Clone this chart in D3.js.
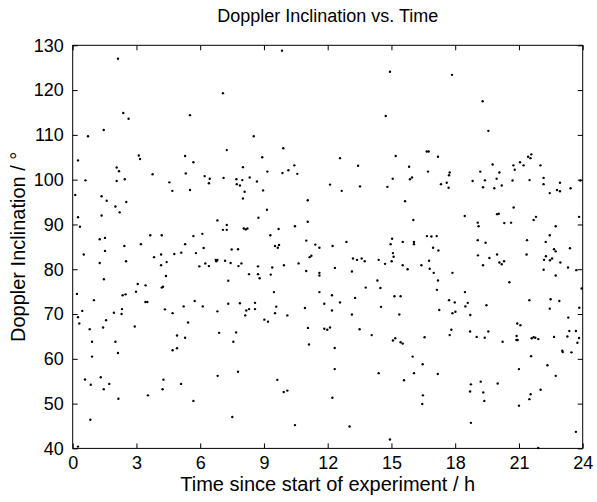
<!DOCTYPE html>
<html>
<head>
<meta charset="utf-8">
<script src="https://cdn.jsdelivr.net/npm/d3@7"></script>
<style>
  body { margin: 0; background: #fff; }
  svg text { font-family: "Liberation Sans", Arial, Helvetica, sans-serif; fill: #000; }
</style>
</head>
<body>
<svg id="chart" width="597" height="502"></svg>
<script>
// tick values
const xTicks = [0, 3, 6, 9, 12, 15, 18, 21, 24];
const yTicks = [40, 50, 60, 70, 80, 90, 100, 110, 120, 130];

const titleText = "Doppler Inclination vs. Time";
const xLabel = "Time since start of experiment / h";
const yLabel = "Doppler Inclination / °";

// [time in h, inclination in deg]
const obs = [
  [2.13,127.0],[2.38,114.9],[2.63,113.6],[1.46,111.1],[0.72,109.7],[3.11,105.4],[3.17,104.6],[0.25,104.3],
  [2.07,102.7],[2.18,101.9],[3.76,101.2],[0.60,99.85],[2.07,99.7],[2.45,100.1],[0.12,96.6],[1.36,96.3],
  [1.60,95.3],[2.52,95.0],[2.01,94.0],[2.21,92.7],[0.25,91.6],[1.36,92.0],[0.34,89.5],[3.65,87.6],
  [1.27,86.7],[1.52,87.0],[3.21,85.6],[2.43,85.2],
  [7.07,119.3],[5.52,114.4],[7.25,106.6],[5.29,105.3],[5.68,103.9],[5.32,101.4],[6.21,100.8],[6.45,100.2],
  [7.10,100.4],[4.55,99.4],[6.41,99.2],[7.70,100.1],[7.72,99.0],[7.87,98.7],[4.69,97.5],[5.52,97.7],
  [6.81,90.9],[7.25,89.9],[7.07,88.8],[7.25,88.8],[4.19,87.6],[6.10,87.9],[5.68,87.4],[5.29,85.6],
  [9.85,128.8],[8.52,109.7],[9.91,107.0],[8.92,105.0],[8.01,102.8],[10.43,103.2],[9.16,101.8],[9.87,101.5],
  [10.15,102.1],[10.57,101.3],[7.98,99.9],[8.33,100.5],[8.67,99.6],[8.09,97.3],[8.96,97.6],[8.01,95.8],
  [11.06,95.4],[9.14,93.3],[8.74,91.5],[11.06,90.6],[10.46,89.6],[8.05,89.1],[8.14,88.9],[8.22,89.1],
  [9.69,89.0],[9.30,87.6],[10.99,86.4],[11.42,85.5],[9.52,85.2],[9.71,85.4],
  [14.93,124.1],[14.73,114.2],[12.58,104.8],[15.20,105.3],[13.43,103.1],[15.83,102.9],[12.11,98.9],[12.66,97.5],
  [13.52,98.5],[14.81,98.4],[15.06,100.2],[15.87,100.1],[15.97,100.5],[15.64,95.2],[16.03,91.0],[15.03,86.8],
  [12.88,86.1],[12.23,85.2],[14.96,85.6],[15.53,86.1],[16.06,86.1],[16.06,85.6],
  [17.85,123.4],[19.29,117.5],[19.56,110.9],[16.66,106.3],[16.75,106.3],[17.19,105.1],[19.76,103.4],[16.72,101.8],
  [17.74,101.6],[17.71,101.0],[19.18,101.8],[20.08,101.6],[19.95,100.2],[19.40,99.85],[18.82,99.7],[17.60,99.3],
  [17.33,99.0],[17.69,98.2],[19.31,98.3],[19.84,98.1],[19.97,92.3],[20.05,92.4],[18.45,91.9],[19.06,90.4],
  [19.10,89.6],[16.67,87.4],[16.88,87.3],[17.13,87.4],[19.06,86.5],[19.43,85.9],
  [21.58,105.65],[21.43,105.1],[21.54,104.8],[21.05,103.9],[20.74,103.2],[21.22,103.2],[22.01,103.2],[20.80,102.2],
  [22.16,100.4],[20.70,99.8],[21.50,99.9],[22.16,99.0],[22.93,99.3],[20.19,98.7],[22.45,97.0],[22.79,97.7],
  [22.93,97.4],[23.43,98.1],[23.89,99.8],[20.75,93.8],[21.80,91.7],[21.69,91.0],[23.83,91.7],[20.31,90.3],
  [20.63,90.4],[22.73,89.6],[22.45,87.6],[21.38,86.5],[22.26,86.1],
  [1.52,84.1],[0.52,83.3],[1.27,81.4],[2.51,81.8],[3.83,82.7],[1.47,77.75],[0.20,74.5],[1.00,73.1],
  [2.35,74.2],[2.49,74.4],[3.06,76.7],[2.98,75.0],[3.43,76.4],[3.42,72.7],[3.51,72.7],[0.45,70.7],
  [0.25,69.3],[0.31,67.9],[1.94,70.3],[2.32,71.1],[2.30,70.0],[1.57,68.6],[1.43,67.0],[0.80,66.6],
  [2.92,67.2],[0.91,63.8],[2.01,63.8],[2.13,61.3],[0.91,60.5],[0.58,55.4],[0.85,54.2],[1.32,55.9],
  [1.72,54.4],[1.46,53.2],[2.15,51.1],[3.54,51.85],[0.83,46.4],[0.25,40.4],
  [4.16,83.3],[4.78,83.4],[5.11,83.7],[5.80,83.6],[6.16,84.75],[7.48,84.4],[7.78,84.45],[4.16,80.9],
  [4.42,81.6],[5.96,80.65],[6.24,81.3],[6.41,80.7],[6.73,82.1],[6.81,82.1],[6.76,81.8],[7.17,81.9],
  [7.43,81.4],[7.80,80.7],[7.94,81.3],[4.39,78.5],[4.19,75.9],[4.25,76.1],[7.32,77.45],[5.74,72.9],
  [4.34,71.05],[5.22,71.7],[6.12,71.7],[4.70,70.2],[6.81,70.6],[7.32,72.3],[7.87,72.4],[5.43,68.1],
  [4.91,65.2],[5.29,64.7],[6.89,65.8],[7.69,65.9],[7.56,63.8],[4.70,61.9],[4.91,62.35],[6.82,56.2],
  [7.78,57.1],[4.27,55.35],[5.10,54.4],[4.23,53.2],[5.68,50.6],[7.51,47.0],
  [9.65,84.8],[11.61,84.8],[8.72,80.65],[9.39,80.4],[9.94,80.9],[10.63,81.3],[11.15,82.7],[11.23,83.0],
  [10.99,79.6],[11.61,79.2],[11.61,78.6],[8.30,78.9],[8.72,78.9],[8.80,78.0],[9.32,78.8],[9.47,74.9],
  [11.61,74.9],[8.58,72.5],[8.17,70.8],[8.30,71.1],[8.58,71.1],[8.12,69.7],[9.58,71.65],[9.52,70.2],
  [10.10,69.7],[9.02,68.75],[9.19,68.3],[10.93,71.35],[11.84,72.3],[11.07,66.9],[11.84,66.7],[11.98,66.5],
  [11.12,63.2],[9.63,55.3],[9.93,52.6],[10.10,52.9],[10.46,45.2],
  [15.07,83.6],[15.10,82.8],[13.19,82.4],[13.38,82.1],[13.60,82.4],[13.74,81.8],[14.40,82.1],[14.70,81.2],
  [15.01,81.8],[15.53,80.9],[15.76,80.0],[12.34,80.3],[13.14,79.5],[14.34,77.5],[13.79,75.9],[14.48,75.8],
  [12.20,74.2],[13.29,73.6],[12.58,72.6],[15.14,73.96],[15.43,73.96],[14.51,71.6],[12.20,70.8],[13.14,69.9],
  [15.37,69.9],[12.11,67.0],[13.50,66.6],[14.07,65.3],[15.07,64.1],[15.18,64.6],[15.43,63.7],[15.53,63.4],
  [12.33,62.4],[16.00,60.5],[12.33,57.7],[14.40,56.8],[16.06,56.8],[15.59,55.2],[12.22,51.3],[13.03,44.9],
  [14.93,42.0],
  [16.96,84.8],[17.21,84.2],[19.07,83.1],[19.61,82.5],[19.97,83.3],[20.08,81.5],[16.77,81.9],[16.41,80.9],
  [19.31,80.9],[16.80,80.1],[16.99,79.2],[17.87,79.2],[17.19,77.5],[17.14,75.4],[18.46,74.9],[17.71,73.1],
  [17.98,72.6],[18.59,72.5],[18.48,71.7],[19.47,71.95],[17.25,70.9],[17.87,70.2],[18.01,70.5],[18.71,69.8],
  [17.82,66.5],[17.74,65.3],[18.70,66.1],[19.56,66.1],[19.01,64.9],[19.39,64.7],[16.56,64.8],[16.47,58.8],
  [17.18,56.6],[18.74,54.3],[19.20,54.9],[20.00,54.5],[18.70,52.7],[19.32,52.5],[19.37,50.6],[16.48,51.85],
  [16.45,49.9],[18.74,45.7],
  [20.19,81.1],[20.30,81.8],[21.36,83.3],[22.27,82.9],[22.18,82.1],[22.46,82.0],[22.56,82.4],[22.65,84.45],
  [22.73,84.0],[23.40,84.7],[22.95,81.5],[22.16,79.9],[22.73,78.6],[23.31,80.4],[23.70,79.8],[20.55,77.1],
  [23.95,75.7],[21.49,73.1],[22.49,73.3],[22.45,71.2],[22.90,72.9],[23.84,71.4],[23.32,69.2],[20.92,67.9],
  [21.07,67.5],[20.23,63.8],[20.89,65.1],[20.88,64.2],[20.94,64.2],[21.60,64.6],[21.69,64.8],[21.77,64.7],
  [21.91,64.4],[22.65,64.9],[23.28,65.0],[23.37,66.2],[23.68,66.2],[23.83,64.65],[23.75,63.6],[23.04,61.8],
  [23.06,61.5],[23.47,61.45],[21.57,60.6],[21.00,57.7],[22.34,58.55],[22.73,56.2],[22.02,53.1],[21.55,52.1],
  [21.49,51.0],[21.00,49.55],[23.68,43.7],[21.91,40.1]
];

const svg = d3.select("#chart"),
      width = +svg.attr("width"),
      height = +svg.attr("height"),
      margin = {top: 45.3, right: 14.3, bottom: 53.6, left: 72.7};

svg.append("rect").attr("width", width).attr("height", height).attr("fill", "#fff");

const x = d3.scaleLinear().domain([0, 24]).range([margin.left, width - margin.right]);
const y = d3.scaleLinear().domain([40, 130]).range([height - margin.bottom, margin.top]);

const tickLen = 5;

// points first, axes on top
svg.append("g")
  .selectAll("circle")
  .data(obs)
  .join("circle")
    .attr("cx", d => x(d[0]))
    .attr("cy", d => y(d[1]))
    .attr("r", 1.2)
    .attr("fill", "#000");

function styleAxis(g) {
  g.select(".domain").remove();
  g.selectAll(".tick line").attr("stroke", "#000").attr("stroke-width", 1);
  g.selectAll(".tick text").attr("font-size", 18).attr("fill", "#000");
}

// bottom (labels), ticks pointing inward
svg.append("g")
  .attr("transform", `translate(0,${height - margin.bottom})`)
  .call(d3.axisBottom(x).tickValues(xTicks).tickSizeInner(-tickLen).tickSizeOuter(0).tickPadding(tickLen + 3))
  .call(styleAxis);

// top, no labels
svg.append("g")
  .attr("transform", `translate(0,${margin.top})`)
  .call(d3.axisTop(x).tickValues(xTicks).tickSizeInner(-tickLen).tickSizeOuter(0).tickFormat(""))
  .call(styleAxis);

// left (labels)
svg.append("g")
  .attr("transform", `translate(${margin.left},0)`)
  .call(d3.axisLeft(y).tickValues(yTicks).tickSizeInner(-tickLen).tickSizeOuter(0).tickPadding(tickLen + 4))
  .call(styleAxis);

// right, no labels
svg.append("g")
  .attr("transform", `translate(${width - margin.right},0)`)
  .call(d3.axisRight(y).tickValues(yTicks).tickSizeInner(-tickLen).tickSizeOuter(0).tickFormat(""))
  .call(styleAxis);

// box
svg.append("rect")
  .attr("x", margin.left)
  .attr("y", margin.top)
  .attr("width", width - margin.left - margin.right)
  .attr("height", height - margin.top - margin.bottom)
  .attr("fill", "none")
  .attr("stroke", "#000")
  .attr("stroke-width", 1);

const cx = (margin.left + width - margin.right) / 2;

svg.append("text")
  .attr("x", cx)
  .attr("y", 22)
  .attr("text-anchor", "middle")
  .attr("font-size", 18)
  .text(titleText);

svg.append("text")
  .attr("x", cx)
  .attr("y", 491)
  .attr("text-anchor", "middle")
  .attr("font-size", 20)
  .text(xLabel);

svg.append("text")
  .attr("transform", `translate(25,${(margin.top + height - margin.bottom) / 2}) rotate(-90)`)
  .attr("text-anchor", "middle")
  .attr("font-size", 20)
  .text(yLabel);
</script>
</body>
</html>
